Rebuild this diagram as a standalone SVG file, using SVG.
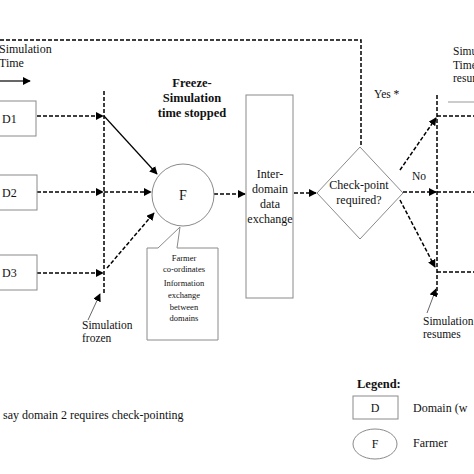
<svg xmlns="http://www.w3.org/2000/svg" width="474" height="474" viewBox="0 0 474 474">
<defs>
<marker id="ah" viewBox="0 0 10 10" refX="9" refY="5" markerWidth="8" markerHeight="8" markerUnits="userSpaceOnUse" orient="auto"><path d="M0,0 L10,5 L0,10 z" fill="#000"/></marker>
<marker id="ahs" viewBox="0 0 10 10" refX="9" refY="5" markerWidth="8" markerHeight="8" markerUnits="userSpaceOnUse" orient="auto"><path d="M0,0 L10,5 L0,10 z" fill="#000"/></marker>
</defs>
<style>
text{font-family:"Liberation Serif","Times New Roman",serif;fill:#111}
.t12{font-size:12px}
.t11{font-size:11.5px}
.t9{font-size:8.5px}
.b{font-weight:bold;font-size:12.5px}
.box{fill:#fff;stroke:#8a8a8a;stroke-width:1}
.dash{fill:none;stroke:#000;stroke-width:1.5;stroke-dasharray:4,2}
.solid{fill:none;stroke:#000;stroke-width:1.2}
.thin{fill:none;stroke:#666;stroke-width:1}
</style>
<rect width="474" height="474" fill="#fff"/>

<g id="connectors">
<path class="dash" d="M0,40 H361 V147"/>
<line class="solid" x1="0" y1="81" x2="30" y2="81" marker-end="url(#ahs)"/>
<line class="dash" x1="104" y1="91" x2="104" y2="293"/>
<line class="dash" x1="37" y1="116" x2="103" y2="116" marker-end="url(#ah)"/>
<line class="solid" x1="104" y1="116" x2="157" y2="174" marker-end="url(#ah)"/>
<line class="dash" x1="37" y1="192" x2="103" y2="192" marker-end="url(#ah)"/>
<line class="dash" x1="104" y1="192" x2="151" y2="192" marker-end="url(#ah)"/>
<line class="dash" x1="37" y1="273" x2="103" y2="273" marker-end="url(#ah)"/>
<line class="dash" x1="107" y1="268" x2="154" y2="213" marker-end="url(#ah)"/>
<line class="thin" x1="88" y1="320" x2="100" y2="294" marker-end="url(#ah)"/>
<line class="dash" x1="214" y1="194" x2="245" y2="194" marker-end="url(#ah)"/>
<line class="dash" x1="294" y1="193" x2="316" y2="193" marker-end="url(#ah)"/>
<line class="dash" x1="437" y1="95" x2="437" y2="295"/>
<line class="dash" x1="400" y1="170" x2="436" y2="118" marker-end="url(#ah)"/>
<line class="dash" x1="437" y1="116" x2="474" y2="116"/>
<line class="dash" x1="403" y1="192" x2="436" y2="192" marker-end="url(#ah)"/>
<line class="dash" x1="437" y1="192" x2="474" y2="192"/>
<line class="dash" x1="400" y1="200" x2="435" y2="267" marker-end="url(#ah)"/>
<line class="dash" x1="437" y1="272" x2="474" y2="272"/>
<line class="thin" x1="427" y1="313" x2="436" y2="289" marker-end="url(#ah)"/>
<line x1="448" y1="102" x2="474" y2="102" stroke="#999" stroke-width="1"/>
</g>

<g id="labels">
<text class="t12" x="-1" y="53">Simulation</text>
<text class="t12" x="-1" y="67">Time</text>
<text class="b" x="192" y="87" text-anchor="middle">Freeze-</text>
<text class="b" x="192" y="102" text-anchor="middle">Simulation</text>
<text class="b" x="192" y="117" text-anchor="middle">time stopped</text>
<text class="t11" x="82" y="329">Simulation</text>
<text class="t11" x="82" y="342">frozen</text>
<text class="t11" x="374" y="98">Yes *</text>
<text class="t11" x="412" y="180">No</text>
<text class="t11" x="423" y="325">Simulation</text>
<text class="t11" x="423" y="338">resumes</text>
<text class="t11" x="453" y="55">Simulation</text>
<text class="t11" x="453" y="69">Time</text>
<text class="t11" x="453" y="82">resumes</text>
<text class="t12" x="3" y="419">say domain 2 requires check-pointing</text>
</g>

<g id="D1"><rect class="box" x="-2" y="101" width="38" height="35"/><text class="t12" x="2" y="123">D1</text></g>
<g id="D2"><rect class="box" x="-2" y="175" width="39" height="35"/><text class="t12" x="2" y="197">D2</text></g>
<g id="D3"><rect class="box" x="-2" y="255" width="39" height="35"/><text class="t12" x="2" y="277">D3</text></g>

<g id="F"><circle class="box" cx="183" cy="195" r="31"/><text x="183" y="200" font-size="14" text-anchor="middle">F</text></g>

<g id="callout">
<path class="box" d="M158,248 H147 V340 H218 V248 H177 L180,227 Z"/>
<text class="t9" x="184" y="261" text-anchor="middle">Farmer</text>
<text class="t9" x="184" y="272" text-anchor="middle">co-ordinates</text>
<text class="t9" x="184" y="286" text-anchor="middle">Information</text>
<text class="t9" x="184" y="298" text-anchor="middle">exchange</text>
<text class="t9" x="184" y="310" text-anchor="middle">between</text>
<text class="t9" x="184" y="321" text-anchor="middle">domains</text>
</g>

<g id="exchange">
<rect class="box" x="246" y="95" width="47" height="203"/>
<text class="t12" x="270" y="178" text-anchor="middle">Inter-</text>
<text class="t12" x="270" y="193" text-anchor="middle">domain</text>
<text class="t12" x="270" y="208" text-anchor="middle">data</text>
<text class="t12" x="270" y="223" text-anchor="middle">exchange</text>
</g>

<g id="checkpoint">
<polygon class="box" points="360,147 403,193 360,239 317,193"/>
<text class="t12" x="359" y="189" text-anchor="middle">Check-point</text>
<text class="t12" x="359" y="204" text-anchor="middle">required?</text>
</g>

<g id="legend">
<text class="b" x="357" y="388">Legend:</text>
<rect class="box" x="353" y="396" width="45" height="23"/>
<text class="t12" x="375" y="412" text-anchor="middle">D</text>
<text class="t12" x="413" y="412">Domain (w</text>
<ellipse class="box" cx="375" cy="444" rx="22" ry="15"/>
<text class="t12" x="375" y="448" text-anchor="middle">F</text>
<text class="t12" x="413" y="447">Farmer</text>
</g>
</svg>
